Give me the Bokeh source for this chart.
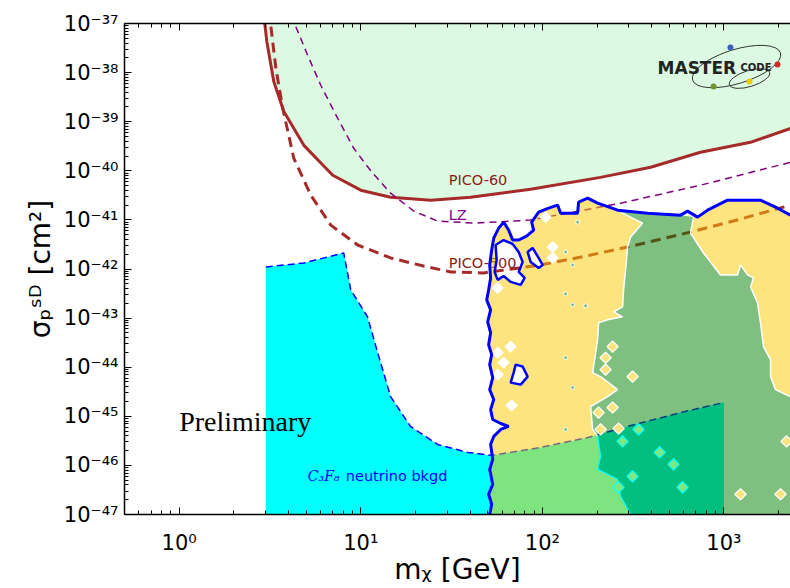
from bokeh.plotting import figure
from bokeh.models import FixedTicker, LogAxis, Range1d
from bokeh.core.properties import value
from bokeh.embed import file_html
from bokeh.resources import INLINE

# ---------------- data (mass in GeV, sigma in cm^2) ----------------
X_MIN, X_MAX = 0.5, 2326.0
Y_MIN, Y_MAX = 1e-47, 1e-37

pico60_mass = [2.96, 3.04, 3.32, 3.77, 4.86, 7.01, 10.0, 14.6, 24.3, 40.3, 86.2, 209, 395, 743, 1400, 2326]
pico60_sigma = [1.0e-37, 4.27e-38, 6.58e-39, 1.62e-39, 3.30e-40, 8.12e-41, 4.03e-41, 2.90e-41, 2.52e-41,
                2.90e-41, 4.19e-41, 7.34e-41, 1.18e-40, 2.38e-40, 3.80e-40, 7.31e-40]

pico500_mass = [3.20, 3.41, 3.72, 4.28, 5.31, 6.84, 9.63, 14.6, 22.2, 31.3, 47.5, 97.9, 163, 295, 655, 1234, 2326]
pico500_sigma = [8.61e-38, 1.21e-38, 1.86e-39, 1.80e-40, 3.18e-41, 7.83e-42, 3.08e-42, 1.68e-42, 1.15e-42,
                 8.71e-43, 8.31e-43, 1.21e-42, 1.75e-42, 2.80e-42, 5.65e-42, 1.04e-41, 2.00e-41]

lz_mass = [4.39, 5.11, 6.03, 7.47, 9.15, 11.4, 14.6, 19.6, 26.5, 41.9, 86.2, 270, 743, 2326]
lz_sigma = [8.61e-38, 2.22e-38, 5.46e-39, 1.17e-39, 2.87e-40, 9.79e-41, 3.50e-41, 1.51e-41, 9.46e-42,
            8.61e-42, 9.91e-42, 2.19e-41, 5.09e-41, 1.49e-40]

floor_mass = [3.0, 4.86, 8.06, 8.81, 10.9, 12.4, 14.6, 18.8, 26.5, 38.8, 52.6, 97.9, 178, 295, 577, 1000]
floor_sigma = [1.10e-42, 1.33e-42, 2.12e-42, 3.76e-43, 1.06e-43, 1.97e-44, 2.52e-45, 6.21e-46, 2.67e-46,
               1.84e-46, 1.60e-46, 2.32e-46, 3.71e-46, 6.21e-46, 1.19e-45, 1.91e-45]

# outer 95% CL contour (blue), from the bottom up and across to the right edge
blue_mass = [51.3, 52.6, 50.6, 53.3, 51.3, 53.3, 51.9, 54.0, 59.0, 65.2, 59.0, 53.3, 51.9, 54.0, 51.3, 53.3,
             51.3, 52.6, 50.6, 51.9, 50.0, 51.9, 49.4, 50.6, 51.9, 51.3, 52.6, 54.0, 57.5, 61.2, 65.2, 68.6,
             74.1, 81.9, 89.6, 87.3, 95.4, 108.3, 121.4, 126.1, 156.4, 158.4, 177.6, 201.5, 259.7, 379.7,
             577.1, 630.6, 715.7, 812.4, 1047, 1590, 1923, 2326]
blue_sigma = [1.0e-47, 1.62e-47, 2.58e-47, 4.12e-47, 8.31e-47, 1.33e-46, 2.68e-46, 3.89e-46, 5.40e-46,
              6.21e-46, 7.14e-46, 8.61e-46, 1.37e-45, 2.20e-45, 3.50e-45, 6.14e-45, 1.13e-44, 1.80e-44,
              2.87e-44, 5.03e-44, 8.41e-44, 1.47e-43, 2.35e-43, 3.75e-43, 6.58e-43, 1.21e-42, 2.44e-42,
              4.27e-42, 6.81e-42, 9.02e-42, 6.21e-42, 3.89e-42, 3.89e-42, 4.69e-42, 6.21e-42, 9.02e-42,
              1.44e-41, 1.74e-41, 2.00e-41, 1.37e-41, 1.37e-41, 2.30e-41, 2.77e-41, 2.19e-41, 1.58e-41,
              1.37e-41, 1.25e-41, 1.51e-41, 1.14e-41, 1.58e-41, 2.52e-41, 2.52e-41, 1.82e-41, 1.25e-41]

# empty holes inside the contour
holeA_mass = [55.3, 61.2, 68.6, 74.1, 77.9, 74.1, 79.9, 76.0, 66.9, 61.2, 56.8, 54.6, 56.0]
holeA_sigma = [3.08e-42, 3.89e-42, 3.23e-42, 2.22e-42, 1.39e-42, 8.71e-43, 6.58e-43, 4.74e-43, 5.46e-43,
               7.22e-43, 6.0e-43, 8.71e-43, 1.53e-42]
holeB_mass = [83.0, 88.4, 95.4, 100.4, 95.4, 86.2]
holeB_sigma = [2.22e-42, 2.68e-42, 1.68e-42, 1.21e-42, 1.05e-42, 1.39e-42]
holeC_mass = [71.3, 77.9, 83.0, 76.0, 66.9, 69.5]
holeC_sigma = [1.13e-44, 1.03e-44, 6.43e-45, 4.42e-45, 4.86e-45, 7.75e-45]

# 68% CL region boundaries
green_left_mass = [269.8, 356.5, 306.2, 294.7, 287.3, 280.2, 276.7, 246.9, 276.7, 228.8, 204.1, 201.5, 189.2,
                   209.4, 259.7, 228.8, 184.4, 189.2, 201.5, 209.4, 201.5, 259.7, 269.8, 306.2]
green_left_sigma = [1.44e-41, 8.61e-42, 4.47e-42, 2.80e-42, 9.56e-43, 3.75e-43, 1.70e-43, 1.34e-43, 1.06e-43,
                    9.24e-44, 8.03e-44, 3.62e-44, 7.75e-45, 6.43e-45, 3.50e-45, 2.52e-45, 1.58e-45, 5.40e-46,
                    3.89e-46, 1.53e-46, 8.31e-47, 5.21e-47, 2.35e-47, 1.0e-47]
green_right_mass = [379.7, 577.1, 680.4, 655.0, 772.2, 957.7, 1188, 1234, 1349, 1455, 1401, 1531, 1590, 1652,
                    1805, 1805, 1923, 2326]
green_right_sigma = [1.37e-41, 1.25e-41, 1.14e-41, 5.40e-42, 2.12e-42, 7.57e-43, 7.57e-43, 1.21e-42, 7.57e-43,
                     6.58e-43, 4.32e-43, 2.05e-43, 8.03e-44, 2.62e-44, 1.42e-44, 6.43e-45, 3.50e-45, 2.52e-45]

# single grid cells
white_cell_mass = [104.3, 114.0, 114.0, 56.8, 66.9, 56.8, 61.2, 56.8, 67.8]
white_cell_sigma = [1.14e-41, 2.80e-42, 1.68e-42, 4.12e-43, 2.62e-44, 1.97e-44, 1.24e-44, 7.06e-45, 1.66e-45]
yellow_cell_mass = [243.8, 223.0, 223.0, 314.1, 243.8, 204.1, 209.4, 263.0, 1234, 2049, 2211]
yellow_cell_sigma = [2.62e-44, 1.56e-44, 8.92e-45, 6.43e-45, 1.51e-45, 1.19e-45, 5.40e-46, 5.65e-46,
                     2.58e-47, 2.58e-47, 3.08e-46]
lime_cell_mass = [338.8, 276.7, 442.2, 528.0, 314.1, 591.9, 263.0]
lime_cell_sigma = [5.40e-46, 3.08e-46, 1.84e-46, 1.05e-46, 5.99e-47, 3.58e-47, 3.58e-47]
dot_mass = [156.4, 134.4, 146.8, 134.4, 146.8, 173.1, 134.4, 146.8, 134.4]
dot_sigma = [9.02e-42, 2.22e-42, 1.21e-42, 3.11e-43, 1.86e-43, 1.78e-43, 1.56e-44, 3.85e-45, 5.40e-46]

x_major = [1, 10, 100, 1000]
y_exponents = list(range(-47, -36))

# ---------------- figure ----------------
p = figure(width=790, height=588, x_axis_type="log", y_axis_type="log",
           x_range=Range1d(X_MIN, X_MAX), y_range=Range1d(Y_MIN, Y_MAX),
           output_backend="svg", toolbar_location=None,
           min_border_left=124, min_border_right=0, min_border_top=23, min_border_bottom=73)
p.outline_line_color = None
p.grid.visible = False
p.background_fill_color = "white"
p.border_fill_color = "white"

sup = str.maketrans("0123456789-", "⁰¹²³⁴⁵⁶⁷⁸⁹⁻")
x_minor = [k * 10.0 ** e for e in range(-1, 4) for k in range(2, 10) if X_MIN <= k * 10.0 ** e <= X_MAX]
y_major = [10.0 ** e for e in y_exponents]
y_minor = [k * 10.0 ** e for e in y_exponents[:-1] for k in range(2, 10)]

def style_axis(ax):
    ax.axis_line_width = 1.5
    ax.axis_line_color = "black"
    ax.major_tick_in = 7
    ax.major_tick_out = 0
    ax.minor_tick_in = 4
    ax.minor_tick_out = 0
    ax.major_tick_line_width = 1
    ax.minor_tick_line_width = 1
    ax.major_label_text_font = "DejaVu Sans"
    ax.major_label_text_font_size = "21px"
    ax.major_label_text_color = "black"
    ax.axis_label_text_font = "DejaVu Sans"
    ax.axis_label_text_font_size = "28px"
    ax.axis_label_text_font_style = "normal"
    ax.axis_label_text_color = "black"

xa = p.xaxis[0]
xa.ticker = FixedTicker(ticks=x_major, minor_ticks=x_minor)
xa.major_label_overrides = {m: "10" + str(e).translate(sup) for m, e in zip(x_major, [0, 1, 2, 3])}
style_axis(xa)
xa.major_label_standoff = 16
xa.axis_label = "mᵪ [GeV]"
xa.axis_label_standoff = -5

ya = p.yaxis[0]
ya.ticker = FixedTicker(ticks=y_major, minor_ticks=y_minor)
ya.major_label_overrides = {v: "10" + str(e).translate(sup) for v, e in zip(y_major, y_exponents)}
style_axis(ya)
ya.major_label_standoff = 6
ya.axis_label = "σₚˢᴰ [cm²]"
ya.axis_label_standoff = 4

top = LogAxis(ticker=FixedTicker(ticks=x_major, minor_ticks=x_minor))
style_axis(top)
top.major_label_text_font_size = "0px"
top.major_label_standoff = 0
top.major_label_overrides = {m: "" for m in x_major}
p.add_layout(top, "above")

# PICO-60 excluded region
p.patch(pico60_mass + [X_MAX], pico60_sigma + [Y_MAX], fill_color="#dcfae2", line_color=None)
# neutrino background region
p.patch(floor_mass + [floor_mass[-1], floor_mass[0]], floor_sigma + [Y_MIN, Y_MIN],
        fill_color="cyan", line_color=None)

# limit curves
p.line(pico60_mass, pico60_sigma, line_color="brown", line_width=3)
p.line(pico500_mass, pico500_sigma, line_color="brown", line_width=3, line_dash="10 6")
p.line(lz_mass, lz_sigma, line_color="purple", line_width=1.5, line_dash="7 5")
p.line(floor_mass, floor_sigma, line_color="blue", line_width=1.5, line_dash="7 4")

lab_font = value("DejaVu Sans")
p.text(x=[30.5], y=[6.43e-41], text=["PICO-60"], text_color="#8b1a1a", text_font=lab_font,
       text_font_size="14.5px", text_baseline="middle")
p.text(x=[30.5], y=[1.25e-41], text=["LZ"], text_color="purple", text_font=lab_font,
       text_font_size="14.5px", text_baseline="middle")
p.text(x=[30.5], y=[1.30e-42], text=["PICO-500"], text_color="#8b1a1a", text_font=lab_font,
       text_font_size="14.5px", text_baseline="middle")

# 95% / 68% regions (semi-transparent, so lines below show through)
yl_x = blue_mass[:45] + green_left_mass
yl_y = blue_sigma[:45] + green_left_sigma
yr_x = blue_mass[48:] + green_right_mass[2:][::-1]
yr_y = blue_sigma[48:] + green_right_sigma[2:][::-1]
g_x = green_right_mass + [X_MAX] + green_left_mass[::-1]
g_y = green_right_sigma + [Y_MIN] + green_left_sigma[::-1]
p.multi_polygons(xs=[[[yl_x, holeA_mass, holeB_mass, holeC_mass]]],
                 ys=[[[yl_y, holeA_sigma, holeB_sigma, holeC_sigma]]],
                 fill_color="#fcc900", fill_alpha=0.5, line_color=None)
p.patch(yr_x, yr_y, fill_color="#fcc900", fill_alpha=0.5, line_color=None)
p.patch(g_x, g_y, fill_color="green", fill_alpha=0.5, line_color=None)

p.line(green_left_mass[:19], green_left_sigma[:19], line_color="white", line_width=1.5)
p.line(green_left_mass[18:], green_left_sigma[18:], line_color="cyan", line_width=1.2)
p.line(green_right_mass[2:], green_right_sigma[2:], line_color="white", line_width=1.5)

p.scatter(white_cell_mass, white_cell_sigma, marker="square", angle=0.785, size=8,
          fill_color="white", line_color="white")
p.scatter(yellow_cell_mass, yellow_cell_sigma, marker="square", angle=0.785, size=8,
          fill_color="#fde480", line_color="white", line_width=1.2)
p.scatter(lime_cell_mass, lime_cell_sigma, marker="square", angle=0.785, size=8,
          fill_color="#80e880", line_color="cyan", line_width=1.2)
p.scatter(dot_mass, dot_sigma, marker="circle", size=4, fill_color="#80bf80",
          line_color="white", line_width=1)

for hx, hy in [(holeA_mass, holeA_sigma), (holeB_mass, holeB_sigma), (holeC_mass, holeC_sigma)]:
    p.patch(hx, hy, fill_color=None, fill_alpha=0, line_color="blue", line_width=2.5)
p.line(blue_mass, blue_sigma, line_color="blue", line_width=3)

# annotations
p.text(x=[5.11], y=[5.99e-47], text=["C₃F₈"], text_color="blue", text_font=value("DejaVu Serif"),
       text_font_style="italic", text_font_size="14px", text_baseline="middle")
p.text(x=[8.27], y=[5.99e-47], text=["neutrino bkgd"], text_color="blue", text_font=lab_font,
       text_font_size="14.5px", text_baseline="middle")
p.text(x=[1.0], y=[7.84e-46], text=["Preliminary"], text_color="black",
       text_font=value("Liberation Serif"), text_font_size="28px", text_baseline="middle")

# MasterCode logo
p.ellipse(x=[1173], y=[1.33e-38], width=92, height=34, width_units="screen", height_units="screen",
          angle=0.3, fill_alpha=0, line_color="#333333", line_width=1)
p.ellipse(x=[1383], y=[7.57e-39], width=42, height=16, width_units="screen", height_units="screen",
          angle=0.3, fill_alpha=0, line_color="#333333", line_width=1)
p.text(x=[431], y=[1.27e-38], text=["MASTER"], text_color="#222222", text_font=lab_font,
       text_font_style="bold", text_font_size="17px", text_baseline="alphabetic")
p.text(x=[1234], y=[1.27e-38], text=["CODE"], text_color="#222222", text_font=lab_font,
       text_font_style="bold", text_font_size="10px", text_baseline="alphabetic")
p.scatter(x=[1086, 1972, 1383, 877], y=[3.23e-38, 1.46e-38, 6.58e-39, 5.21e-39], marker="circle", size=6,
          fill_color=["#3c64b4", "#d22828", "#f0c800", "#6e9628"], line_color=None)

open("out.html", "w").write(file_html(p, INLINE))
